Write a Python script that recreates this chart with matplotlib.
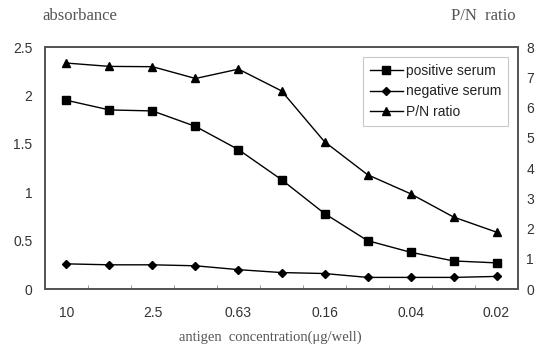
import matplotlib
matplotlib.use("Agg")
import matplotlib.pyplot as plt
import numpy as np

# antigen dilution steps (only every other step is labelled)
conc_labels = ["10", "", "2.5", "", "0.63", "", "0.16", "", "0.04", "", "0.02"]
positive_serum = [1.95, 1.85, 1.84, 1.68, 1.44, 1.13, 0.78, 0.50, 0.38, 0.29, 0.27]
negative_serum = [0.26, 0.25, 0.25, 0.24, 0.20, 0.17, 0.16, 0.12, 0.12, 0.12, 0.13]
pn_ratio = [7.47, 7.36, 7.35, 6.96, 7.27, 6.55, 4.87, 3.78, 3.15, 2.38, 1.88]

sans = ["Liberation Sans", "DejaVu Sans"]
serif = ["Liberation Serif", "DejaVu Serif"]
tick_color = "#333333"
title_color = "#555555"

fig = plt.figure(figsize=(5.4, 3.51), dpi=100)
ax = fig.add_axes([0.0833, 0.1766, 0.876, 0.6894])
ax2 = ax.twinx()

x = np.arange(len(positive_serum))
l1, = ax.plot(x, positive_serum, color="black", lw=1.0, marker="s", ms=6,
              label="positive serum")
l2, = ax.plot(x, negative_serum, color="black", lw=1.0, marker="D", ms=3.8,
              label="negative serum")
l3, = ax2.plot(x, pn_ratio, color="black", lw=1.0, marker="^", ms=6,
               label="P/N ratio")

ax.set_xlim(-0.5, len(x) - 0.5)
ax.set_ylim(0, 2.5)
ax2.set_ylim(0, 8)
ax.set_yticks([0, 0.5, 1, 1.5, 2, 2.5])
ax.set_yticklabels(["0", "0.5", "1", "1.5", "2", "2.5"])
ax2.set_yticks(range(9))

ax.set_xticks(x)
ax.set_xticklabels(conc_labels)
ax.set_xticks(np.arange(0.5, len(x) - 1, 1.0), minor=True)
ax.tick_params(axis="x", which="major", length=0, pad=12)
ax.tick_params(axis="x", which="minor", direction="in", length=3, color="#888888")
ax.tick_params(axis="y", length=0, pad=9)
ax2.tick_params(axis="y", length=0, pad=6)

for lab in ax.get_xticklabels() + ax.get_yticklabels() + ax2.get_yticklabels():
    lab.set_family(sans)
    lab.set_fontsize(10)
    lab.set_color(tick_color)

for a in (ax, ax2):
    for sp in a.spines.values():
        sp.set_color("#555555")
        sp.set_linewidth(1.3)

fig.text(0.078, 0.955, "absorbance", family=serif, fontsize=12, color=title_color,
         ha="left", va="center")
fig.text(0.955, 0.955, "P/N  ratio", family=serif, fontsize=12, color=title_color,
         ha="right", va="center")
fig.text(0.5, 0.04, "antigen  concentration(μg/well)", family=serif, fontsize=10.5,
         color=title_color, ha="center", va="center")

leg = ax2.legend(handles=[l1, l2, l3], loc="upper right",
                 bbox_to_anchor=(0.979, 0.958), borderaxespad=0,
                 prop={"family": sans, "size": 10},
                 frameon=True, fancybox=False, handlelength=2.4,
                 handletextpad=0.2, borderpad=0.5, labelspacing=0.45)
leg.get_frame().set_edgecolor("#bbbbbb")
leg.get_frame().set_linewidth(0.8)
for t in leg.get_texts():
    t.set_color("#222222")

fig.savefig("out.png", dpi=100)
